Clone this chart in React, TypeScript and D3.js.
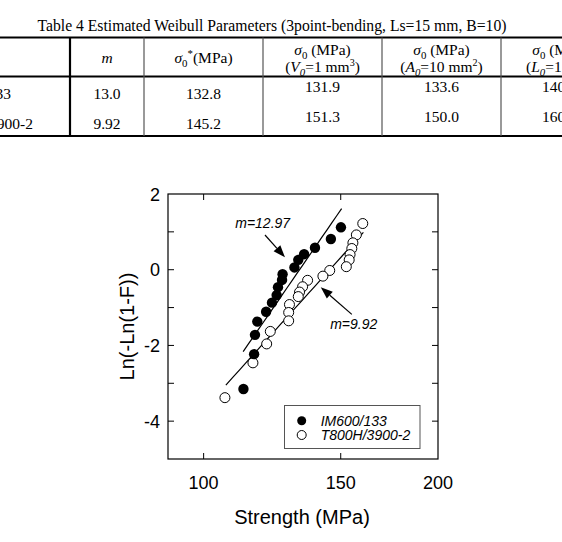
import React from "react";
import * as d3 from "d3";

// Weibull plot data: strength (MPa) and ln(-ln(1-F))
const im600Strength = [150.1, 145.7, 139.0, 134.6, 132.3, 130.8, 126.3, 126.1, 124.6, 124.1, 122.4, 120.3, 117.2, 116.4, 116.1, 112.5];
const im600LnLn = [1.12, 0.81, 0.58, 0.41, 0.26, 0.06, -0.12, -0.27, -0.46, -0.67, -0.87, -1.11, -1.37, -1.72, -2.23, -3.15];

const t800Strength = [160.1, 157.1, 155.5, 155.0, 154.2, 153.8, 152.5, 145.2, 142.3, 136.0, 134.0, 132.8, 132.3, 128.9, 128.6, 128.6, 121.8, 120.5, 115.7, 106.5];
const t800LnLn = [1.22, 0.92, 0.71, 0.56, 0.4, 0.26, 0.08, -0.02, -0.17, -0.28, -0.45, -0.59, -0.71, -0.92, -1.13, -1.35, -1.63, -1.96, -2.46, -3.38];

// Fitted Weibull lines: y = m * ln(sigma / sigma0)
const fitNames = ["IM600/133", "T800H/3900-2"];
const fitM = [12.97, 9.92];
const fitSigma0 = [132.8, 145.2];
const fitRange = [[112.4, 150.4], [106.8, 160.4]];

const xTicks = [100, 150, 200];
const yTicks = [-4, -2, 0, 2];
const yMinorTicks = [-4, -3, -2, -1, 0, 1];

// Table content
const tableTitle = "Table 4 Estimated Weibull Parameters (3point-bending, Ls=15 mm, B=10)";
const rowNames = ["IM600/133", "T800H/3900-2"];
const colM = ["13.0", "9.92"];
const colSigmaStar = ["132.8", "145.2"];
const colV0 = ["131.9", "151.3"];
const colA0 = ["133.6", "150.0"];
const colL0 = ["140", "160"];

const serif = "'Liberation Serif', 'Times New Roman', serif";
const sans = "'Liberation Sans', Arial, Helvetica, sans-serif";

function Arrow({ x1, y1, x2, y2 }: { x1: number; y1: number; x2: number; y2: number }) {
  const dx = x2 - x1, dy = y2 - y1;
  const len = Math.hypot(dx, dy);
  const ux = dx / len, uy = dy / len;
  const hl = 12, hw = 4.5;
  const bx = x2 - ux * hl, by = y2 - uy * hl;
  const pts = [
    [x2, y2],
    [bx - uy * hw, by + ux * hw],
    [bx + uy * hw, by - ux * hw],
  ];
  return (
    <g>
      <line x1={x1} y1={y1} x2={bx} y2={by} stroke="#000" strokeWidth={1.2} />
      <polygon points={pts.map((p) => p.join(",")).join(" ")} fill="#000" />
    </g>
  );
}

function Table() {
  const fs = 15.5;
  const colX = [70, 144, 263, 382, 501];
  const centers = [107, 203.5, 322.5, 441.5, 560.5];
  return (
    <g fontFamily={serif} fill="#000">
      <text x={272} y={31} fontSize={15.7} textAnchor="middle">{tableTitle}</text>
      {/* horizontal rules */}
      <line x1={0} x2={562} y1={37.5} y2={37.5} stroke="#000" strokeWidth={2} />
      <line x1={0} x2={562} y1={76.5} y2={76.5} stroke="#000" strokeWidth={2} />
      <line x1={0} x2={562} y1={136} y2={136} stroke="#000" strokeWidth={2} />
      {/* vertical rules */}
      {colX.map((x, i) => (
        <line key={x} x1={x} x2={x} y1={37.5} y2={136} stroke={i === 0 ? "#000" : "#555"} strokeWidth={i === 0 ? 2.2 : 1.2} />
      ))}
      {/* header */}
      <text x={centers[0]} y={63} fontSize={fs} textAnchor="middle" fontStyle="italic">m</text>
      <text x={centers[1]} y={63} fontSize={fs} textAnchor="middle">
        <tspan fontStyle="italic">σ</tspan>
        <tspan fontSize={fs * 0.7} dy={4}>0</tspan>
        <tspan fontSize={fs * 0.7} dy={-10}>*</tspan>
        <tspan dy={6}>(MPa)</tspan>
      </text>
      {[
        { c: centers[2], s: "V", u: "=1 mm", e: "3" },
        { c: centers[3], s: "A", u: "=10 mm", e: "2" },
        { c: centers[4], s: "L", u: "=1 mm", e: "" },
      ].map((h) => (
        <g key={h.c}>
          <text x={h.c} y={55} fontSize={fs} textAnchor="middle">
            <tspan fontStyle="italic">σ</tspan>
            <tspan fontSize={fs * 0.7} dy={4}>0</tspan>
            <tspan dy={-4}> (MPa)</tspan>
          </text>
          <text x={h.c} y={72} fontSize={fs} textAnchor="middle">
            (<tspan fontStyle="italic">{h.s}</tspan>
            <tspan fontStyle="italic" fontSize={fs * 0.7} dy={4}>0</tspan>
            <tspan dy={-4}>{h.u}</tspan>
            {h.e ? <tspan fontSize={fs * 0.65} dy={-6}>{h.e}</tspan> : null}
            <tspan dy={h.e ? 6 : 0}>)</tspan>
          </text>
        </g>
      ))}
      {/* body */}
      <text x={11} y={98.5} fontSize={fs} textAnchor="end">{rowNames[0]}</text>
      <text x={33} y={128.5} fontSize={fs} textAnchor="end">{rowNames[1]}</text>
      {[0, 1].map((r) => {
        const yLow = r === 0 ? 98.5 : 128.5;
        const yHigh = r === 0 ? 92 : 121.5;
        return (
          <g key={r} fontSize={fs}>
            <text x={centers[0]} y={yLow} textAnchor="middle">{colM[r]}</text>
            <text x={centers[1]} y={yLow} textAnchor="middle">{colSigmaStar[r]}</text>
            <text x={centers[2]} y={yHigh} textAnchor="middle">{colV0[r]}</text>
            <text x={centers[3]} y={yHigh} textAnchor="middle">{colA0[r]}</text>
            <text x={542} y={yHigh} textAnchor="start">{colL0[r]}</text>
          </g>
        );
      })}
    </g>
  );
}

function Chart() {
  const left = 168, right = 438, top = 194, bottom = 459;
  const x = d3.scaleLog().domain([90, 200]).range([left, right]);
  const y = d3.scaleLinear().domain([-5, 2]).range([bottom, top]);
  const tick = 6;

  const lines = fitM.map((m, k) => {
    const [a, b] = fitRange[k];
    const vals = d3.range(0, 21).map((i) => a * Math.pow(b / a, i / 20));
    const gen = d3
      .line<number>()
      .x((v) => x(v))
      .y((v) => y(m * Math.log(v / fitSigma0[k])));
    return gen(vals) as string;
  });

  const filled = im600Strength.map((s, i) => [s, im600LnLn[i]]);
  const open = t800Strength.map((s, i) => [s, t800LnLn[i]]);

  return (
    <g fontFamily={sans}>
      {/* frame */}
      <rect x={left} y={top} width={right - left} height={bottom - top} fill="none" stroke="#000" strokeWidth={1.2} />
      {/* x ticks */}
      {xTicks.filter((t) => t < 200).map((t) => (
        <g key={t}>
          <line x1={x(t)} x2={x(t)} y1={bottom} y2={bottom - tick} stroke="#000" />
          <line x1={x(t)} x2={x(t)} y1={top} y2={top + tick} stroke="#000" />
        </g>
      ))}
      {xTicks.map((t) => (
        <text key={t} x={x(t)} y={489} fontSize={18} textAnchor="middle">{t}</text>
      ))}
      {/* y ticks */}
      {yMinorTicks.map((t) => (
        <g key={t}>
          <line x1={left} x2={left + tick} y1={y(t)} y2={y(t)} stroke="#000" />
          <line x1={right} x2={right - tick} y1={y(t)} y2={y(t)} stroke="#000" />
        </g>
      ))}
      {yTicks.map((t) => (
        <text key={t} x={160} y={y(t) + 6.5} fontSize={18} textAnchor="end">{t}</text>
      ))}
      <text x={302} y={524} fontSize={20} textAnchor="middle">Strength (MPa)</text>
      <text
        transform={`translate(127,${(top + bottom) / 2}) rotate(-90)`}
        fontSize={20}
        textAnchor="middle"
        dominantBaseline="central"
      >
        Ln(-Ln(1-F))
      </text>

      {/* fitted lines */}
      {lines.map((d, k) => (
        <path key={k} d={d} fill="none" stroke="#000" strokeWidth={1.2} />
      ))}

      {/* data points */}
      {open.map(([s, v], i) => (
        <circle key={"o" + i} cx={x(s)} cy={y(v)} r={5} fill="#fff" stroke="#000" strokeWidth={1} />
      ))}
      {filled.map(([s, v], i) => (
        <circle key={"f" + i} cx={x(s)} cy={y(v)} r={5.2} fill="#000" />
      ))}

      {/* slope annotations */}
      <text x={x(109.8)} y={y(0.9)} fontSize={14} fontStyle="italic" dy={-8}>m=12.97</text>
      <Arrow x1={x(119.9)} y1={y(0.917)} x2={x(127.2)} y2={y(0.328)} />
      <text x={x(145.4)} y={y(-1.44)} fontSize={14} fontStyle="italic" dy={5}>m=9.92</text>
      <Arrow x1={x(155.0)} y1={y(-1.18)} x2={x(141.4)} y2={y(-0.465)} />

      {/* legend */}
      <rect x={284.5} y={405.5} width={135.5} height={43} fill="#fff" stroke="#555" strokeWidth={1} />
      <circle cx={301.7} cy={420.7} r={4.5} fill="#000" />
      <circle cx={301.7} cy={435} r={4.5} fill="#fff" stroke="#000" />
      <text x={320.7} y={425.7} fontSize={14} fontStyle="italic">{fitNames[0]}</text>
      <text x={320.7} y={440} fontSize={14} fontStyle="italic">{fitNames[1]}</text>
    </g>
  );
}

export default function App() {
  return (
    <svg width={562} height={542} viewBox="0 0 562 542" style={{ display: "block", position: "absolute", left: 0, top: 0, background: "#fff" }}>
      <rect width={562} height={542} fill="#fff" />
      <Table />
      <Chart />
    </svg>
  );
}
